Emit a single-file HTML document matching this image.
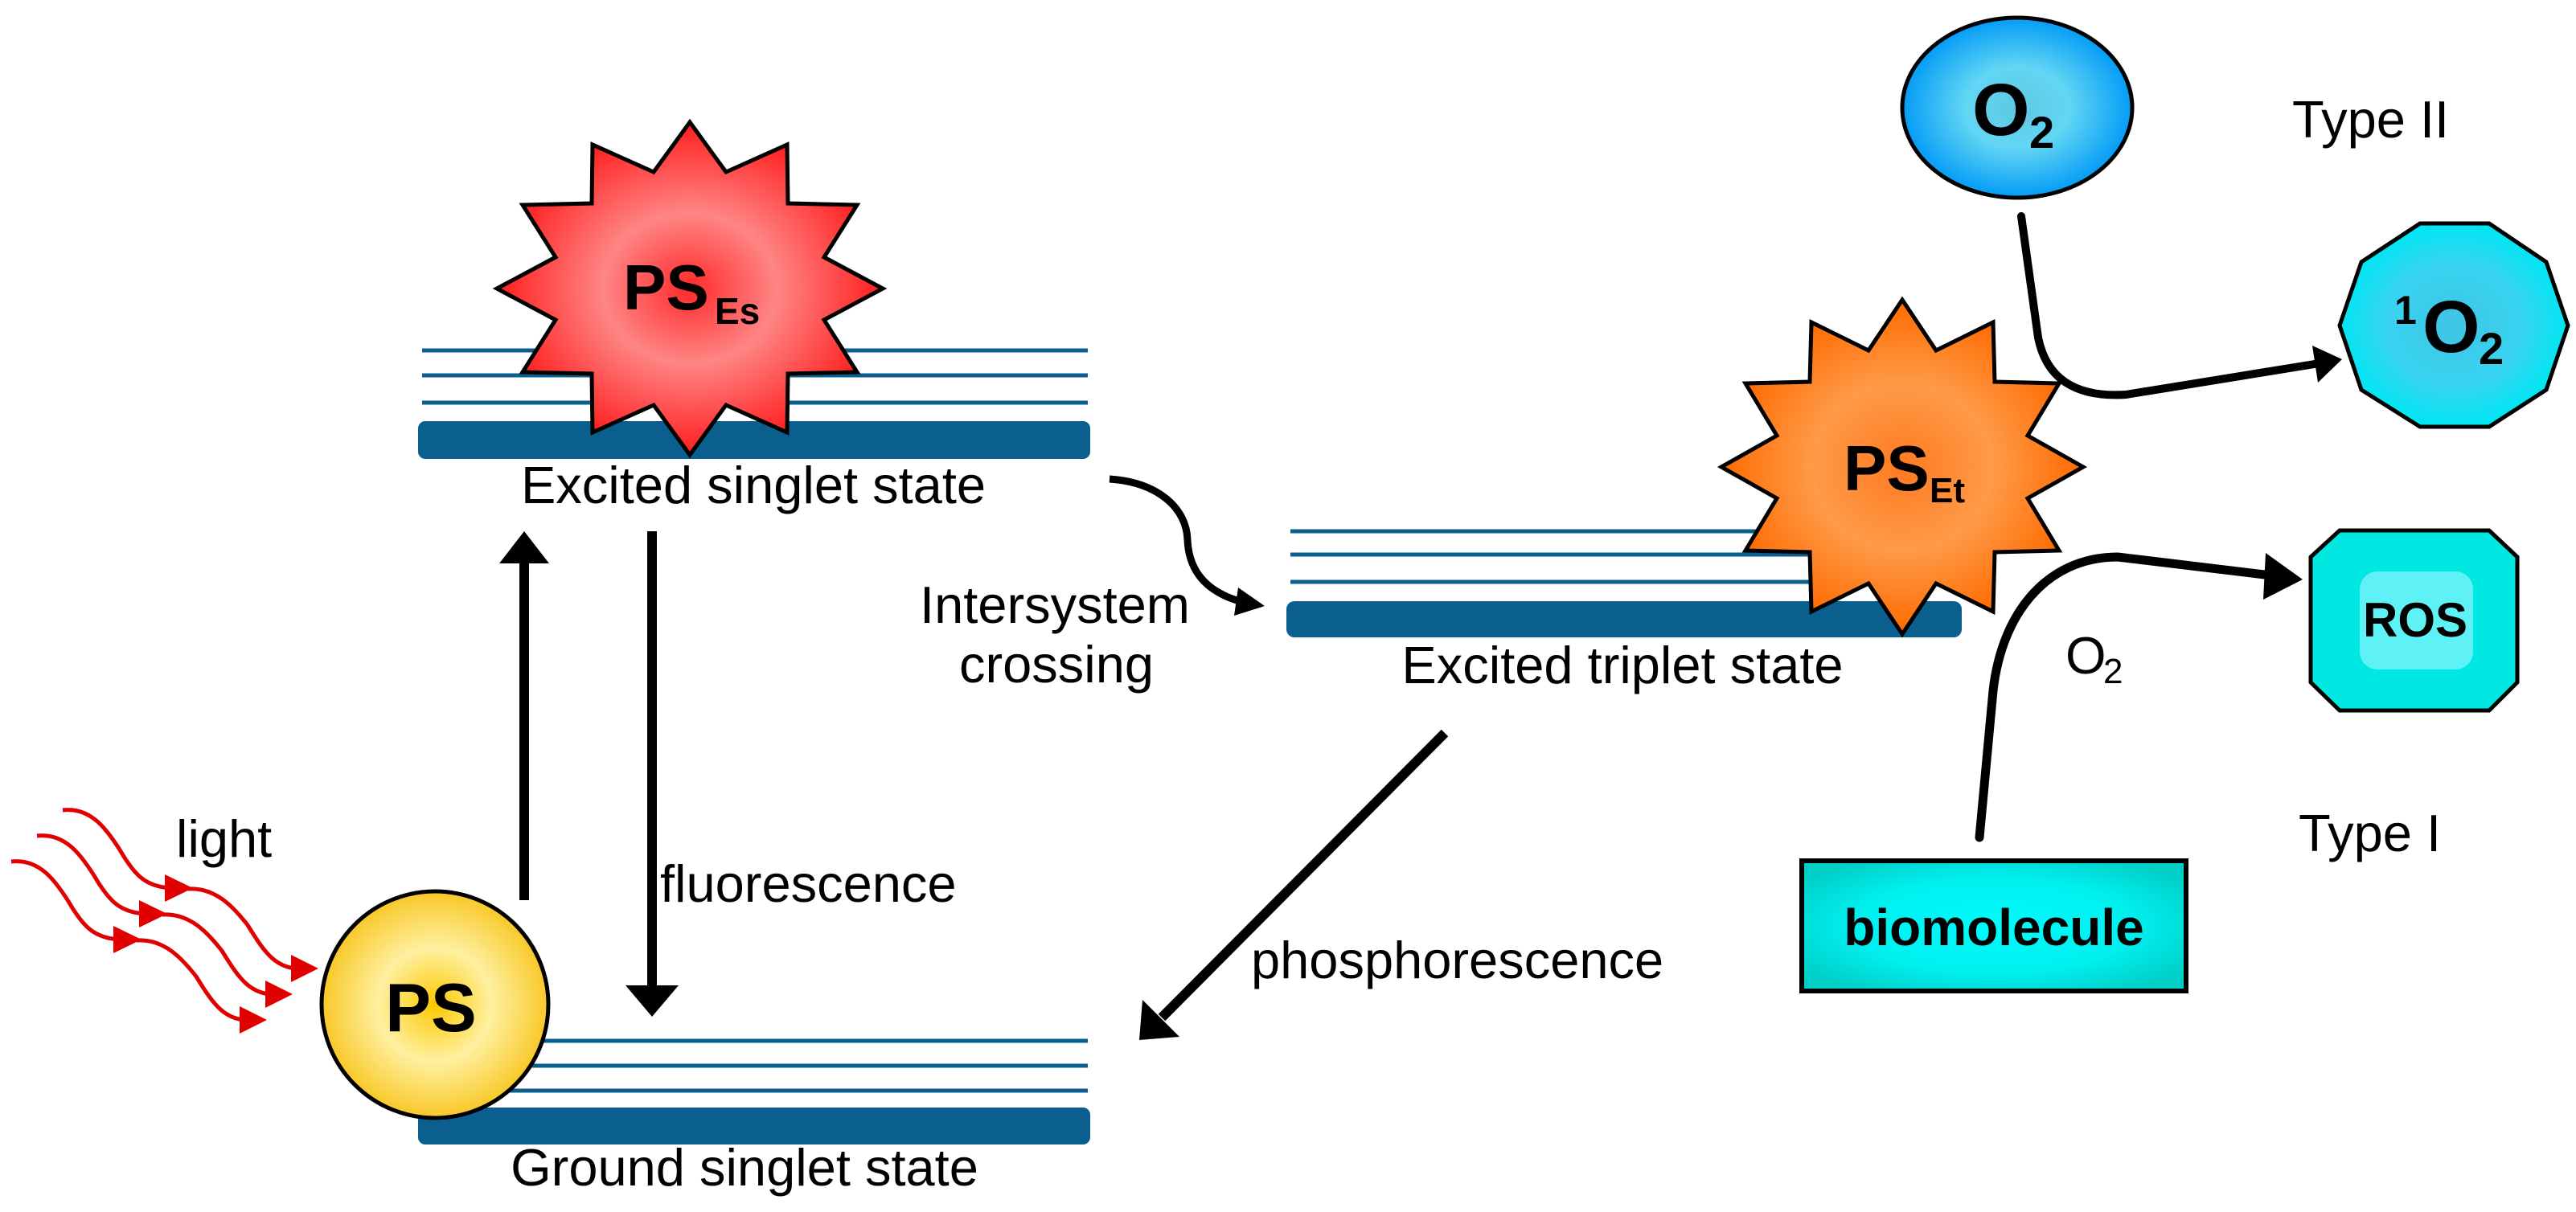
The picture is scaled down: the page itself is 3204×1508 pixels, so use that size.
<!DOCTYPE html>
<html><head><meta charset="utf-8"><style>
html,body{margin:0;padding:0;background:#fff;}
svg{display:block;}
text{font-family:"Liberation Sans",Arial,sans-serif;fill:#000;}
</style></head><body>
<svg width="3204" height="1508" viewBox="0 0 3204 1508" xmlns="http://www.w3.org/2000/svg">
<defs>
<radialGradient id="gRed" cx="50%" cy="50%" r="50%">
<stop offset="0" stop-color="#ff2a2a"/><stop offset="0.45" stop-color="#ff8585"/><stop offset="1" stop-color="#ff1e1e"/></radialGradient>
<radialGradient id="gOr" cx="50%" cy="50%" r="50%">
<stop offset="0" stop-color="#ff7a20"/><stop offset="0.5" stop-color="#ff9a48"/><stop offset="1" stop-color="#ff6a00"/></radialGradient>
<radialGradient id="gYel" cx="50%" cy="50%" r="50%">
<stop offset="0" stop-color="#fcc800"/><stop offset="0.5" stop-color="#fff0a0"/><stop offset="1" stop-color="#f8c828"/></radialGradient>
<radialGradient id="gBlue" cx="50%" cy="50%" r="50%">
<stop offset="0" stop-color="#5ec8e0"/><stop offset="0.45" stop-color="#62d6f4"/><stop offset="1" stop-color="#049cf6"/></radialGradient>
<radialGradient id="gCyan" cx="50%" cy="50%" r="50%">
<stop offset="0" stop-color="#40c4e4"/><stop offset="0.6" stop-color="#38d4f2"/><stop offset="1" stop-color="#00e6f2"/></radialGradient>
<radialGradient id="gBio" cx="50%" cy="50%" r="60%">
<stop offset="0" stop-color="#00fbfb"/><stop offset="0.6" stop-color="#00f0f0"/><stop offset="1" stop-color="#00cfc8"/></radialGradient>
</defs>

<!-- Excited singlet state -->
<g stroke="#0b5f8f" stroke-width="5">
<line x1="525" y1="436" x2="1353" y2="436"/><line x1="525" y1="467" x2="1353" y2="467"/><line x1="525" y1="501" x2="1353" y2="501"/>
</g>
<rect x="520" y="524" width="836" height="47" rx="9" fill="#0b5f8f"/>
<polygon fill="url(#gRed)" stroke="#000" stroke-width="5" stroke-linejoin="miter"
points="858,152 903,214 979,180 980,253 1066,255 1025,320 1098,359 1025,398 1066,463 980,465 979,538 903,504 858,566 813,504 737,538 736,465 650,463 691,398 618,359 691,320 650,255 736,253 737,180 813,214"/>
<text x="775" y="385" font-size="80" font-weight="bold">PS</text>
<text x="889" y="403" font-size="46" font-weight="bold">Es</text>
<text x="937" y="626" font-size="65" text-anchor="middle">Excited singlet state</text>

<!-- vertical arrows -->
<line x1="652" y1="1120" x2="652" y2="695" stroke="#000" stroke-width="12"/>
<polygon points="652,661 621,701 683,701" fill="#000"/>
<line x1="811" y1="661" x2="811" y2="1230" stroke="#000" stroke-width="12"/>
<polygon points="811,1265 778,1226 844,1226" fill="#000"/>
<text x="821" y="1122" font-size="65">fluorescence</text>

<!-- Ground singlet state -->
<g stroke="#0b5f8f" stroke-width="5">
<line x1="600" y1="1295" x2="1353" y2="1295"/><line x1="600" y1="1326" x2="1353" y2="1326"/><line x1="600" y1="1357" x2="1353" y2="1357"/>
</g>
<rect x="520" y="1378" width="836" height="46" rx="9" fill="#0b5f8f"/>
<circle cx="541" cy="1250" r="141" fill="url(#gYel)" stroke="#000" stroke-width="5"/>
<text x="536" y="1283" font-size="85" font-weight="bold" text-anchor="middle">PS</text>
<text x="926" y="1475" font-size="65" text-anchor="middle">Ground singlet state</text>

<!-- light waves -->
<g id="wave" fill="none" stroke="#e00000" stroke-width="5">
<path d="M78,1008 C112,1004 132,1030 150,1059 C168,1090 182,1103 212,1105"/>
<path d="M234,1106 C268,1104 290,1128 308,1151 C326,1180 340,1203 368,1205"/>
</g>
<g fill="#e00000">
<polygon points="205,1088 240,1105 205,1122"/><polygon points="362,1188 396,1205 362,1222"/>
</g>
<g transform="translate(-32,32)">
<g fill="none" stroke="#e00000" stroke-width="5">
<path d="M78,1008 C112,1004 132,1030 150,1059 C168,1090 182,1103 212,1105"/>
<path d="M234,1106 C268,1104 290,1128 308,1151 C326,1180 340,1203 368,1205"/>
</g>
<g fill="#e00000"><polygon points="205,1088 240,1105 205,1122"/><polygon points="362,1188 396,1205 362,1222"/></g>
</g>
<g transform="translate(-64,64)">
<g fill="none" stroke="#e00000" stroke-width="5">
<path d="M78,1008 C112,1004 132,1030 150,1059 C168,1090 182,1103 212,1105"/>
<path d="M234,1106 C268,1104 290,1128 308,1151 C326,1180 340,1203 368,1205"/>
</g>
<g fill="#e00000"><polygon points="205,1088 240,1105 205,1122"/><polygon points="362,1188 396,1205 362,1222"/></g>
</g>
<text x="219" y="1066" font-size="65">light</text>

<!-- Intersystem crossing -->
<path d="M1380,596 C1440,600 1476,632 1477,672 C1479,715 1505,738 1545,749" fill="none" stroke="#000" stroke-width="9"/>
<polygon points="1573,754 1540,731 1535,766" fill="#000"/>
<text x="1312" y="775" font-size="65" text-anchor="middle">Intersystem</text>
<text x="1314" y="849" font-size="65" text-anchor="middle">crossing</text>

<!-- Excited triplet state -->
<g stroke="#0b5f8f" stroke-width="5">
<line x1="1605" y1="661" x2="2300" y2="661"/><line x1="1605" y1="690" x2="2300" y2="690"/><line x1="1605" y1="724" x2="2300" y2="724"/>
</g>
<rect x="1600" y="748" width="840" height="45" rx="10" fill="#0b5f8f"/>
<polygon fill="url(#gOr)" stroke="#000" stroke-width="5"
points="2366,373 2408,436 2479,401 2481,475 2561,477 2522,542 2591,581 2522,620 2561,685 2481,687 2479,761 2408,726 2366,789 2324,726 2253,761 2251,687 2171,685 2210,620 2141,581 2210,542 2171,477 2251,475 2253,401 2324,436"/>
<text x="2293" y="610" font-size="80" font-weight="bold">PS</text>
<text x="2400" y="625" font-size="44" font-weight="bold">Et</text>
<text x="2018" y="850" font-size="65" text-anchor="middle">Excited triplet state</text>

<!-- phosphorescence -->
<line x1="1797" y1="912" x2="1445" y2="1266" stroke="#000" stroke-width="12"/>
<polygon points="1417,1294 1421,1244 1467,1290" fill="#000"/>
<text x="1556" y="1217" font-size="65">phosphorescence</text>

<!-- Type II -->
<ellipse cx="2509" cy="134" rx="143" ry="112" fill="url(#gBlue)" stroke="#000" stroke-width="5"/>
<text x="2453" y="168" font-size="92" font-weight="bold">O</text>
<text x="2524" y="184" font-size="56" font-weight="bold">2</text>
<text x="2851" y="171" font-size="65">Type II</text>
<path d="M2514,269 L2535,420 C2545,470 2580,495 2644,491 L2885,452" fill="none" stroke="#000" stroke-width="10" stroke-linecap="round"/>
<polygon points="2913,447 2876,430 2883,476" fill="#000"/>
<polygon points="3010,278 3096,278 3167,326 3194,405 3167,485 3096,531 3010,531 2937,485 2910,405 2937,326" fill="url(#gCyan)" stroke="#000" stroke-width="5"/>
<text x="2978" y="403" font-size="50" font-weight="bold">1</text>
<text x="3013" y="438" font-size="92" font-weight="bold">O</text>
<text x="3083" y="453" font-size="56" font-weight="bold">2</text>

<!-- Type I -->
<path d="M2462,1042 L2478,870 C2486,765 2545,693 2634,693 L2825,716" fill="none" stroke="#000" stroke-width="11" stroke-linecap="round"/>
<polygon points="2864,721 2818,688 2815,746" fill="#000"/>
<text x="2569" y="838" font-size="65">O</text>
<text x="2616" y="850" font-size="44">2</text>
<polygon points="2910,660 3096,660 3131,693 3131,849 3096,884 2910,884 2874,849 2874,693" fill="#00e8e2" stroke="#000" stroke-width="5"/>
<rect x="2935" y="711" width="141" height="122" rx="22" fill="#6ff2f8" opacity="0.85"/>
<text x="3004" y="792" font-size="60" font-weight="bold" text-anchor="middle">ROS</text>
<text x="2859" y="1059" font-size="65">Type I</text>
<rect x="2241" y="1071" width="478" height="162" fill="url(#gBio)" stroke="#000" stroke-width="6"/>
<text x="2480" y="1176" font-size="64" font-weight="bold" text-anchor="middle">biomolecule</text>
</svg>
</body></html>
